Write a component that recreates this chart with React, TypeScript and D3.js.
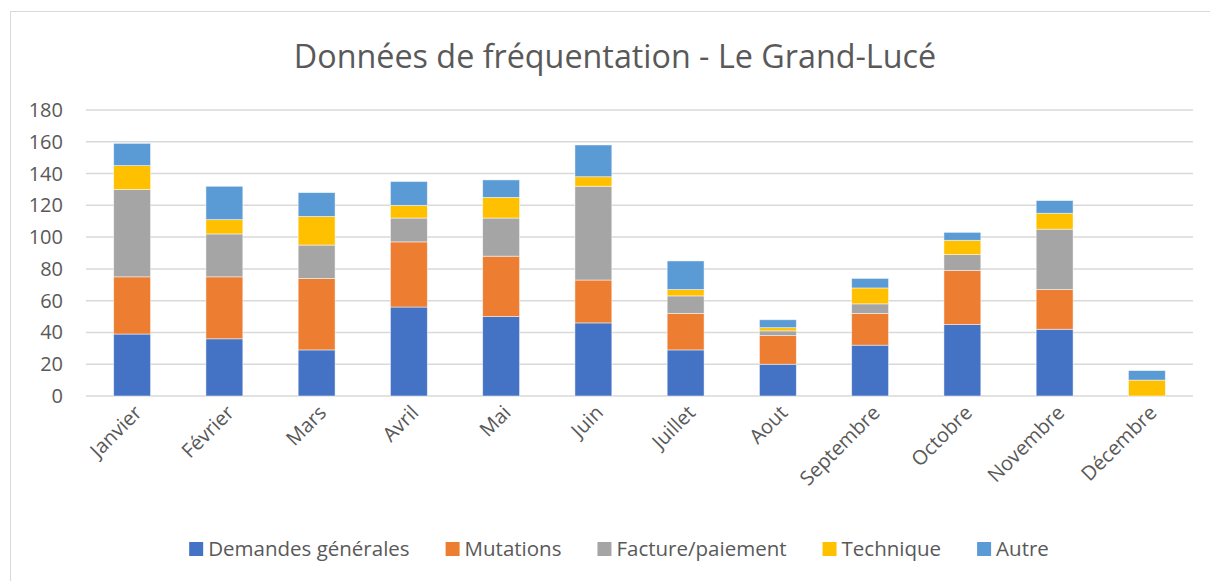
import React from "react";
import * as d3 from "d3";

const months = ["Janvier", "Février", "Mars", "Avril", "Mai", "Juin", "Juillet", "Aout", "Septembre", "Octobre", "Novembre", "Décembre"];
const seriesNames = ["Demandes générales", "Mutations", "Facture/paiement", "Technique", "Autre"];
const demandes = [39, 36, 29, 56, 50, 46, 29, 20, 32, 45, 42, 0];
const mutations = [36, 39, 45, 41, 38, 27, 23, 18, 20, 34, 25, 0];
const facture = [55, 27, 21, 15, 24, 59, 11, 3, 6, 10, 38, 0];
const technique = [15, 9, 18, 8, 13, 6, 4, 2, 10, 9, 10, 10];
const autre = [14, 21, 15, 15, 11, 20, 18, 5, 6, 5, 8, 6];
const yTicks = [0, 20, 40, 60, 80, 100, 120, 140, 160, 180];
const colors = ["#4472C4", "#ED7D31", "#A5A5A5", "#FFC000", "#5B9BD5"];

const W = 1210;
const H = 581;
const FONT = "'Open Sans', 'Segoe UI', sans-serif";
const TEXT = "#595959";

function measure(text: string, size: number) {
  const c = document.createElement("canvas").getContext("2d");
  if (!c) return text.length * size * 0.55;
  c.font = `${size}px 'Open Sans'`;
  return c.measureText(text).width;
}

export default function App() {
  const x = d3.scaleBand<string>().domain(months).range([86, 1193]).paddingInner(0.6).paddingOuter(0.3);
  const y = d3.scaleLinear().domain([0, 180]).range([396, 110]);

  const rows = months.map((m, i) => ({
    month: m,
    s0: demandes[i],
    s1: mutations[i],
    s2: facture[i],
    s3: technique[i],
    s4: autre[i],
  }));
  const stack = d3.stack<any>().keys(["s0", "s1", "s2", "s3", "s4"]);
  const layers = stack(rows);

  const legendSize = 20.5;
  const sq = 14;
  const gapSq = 5;
  const gapItem = 36;
  const widths = seriesNames.map((n) => measure(n, legendSize));
  const total = widths.reduce((a, w) => a + sq + gapSq + w, 0) + gapItem * (seriesNames.length - 1);
  let lx = 619 - total / 2;
  const legendItems = seriesNames.map((n, i) => {
    const item = { name: n, x: lx, color: colors[i] };
    lx += sq + gapSq + widths[i] + gapItem;
    return item;
  });

  return (
    <svg width={W} height={H} style={{ position: "absolute", left: 0, top: 0, background: "#fff" }} fontFamily={FONT}>
      <rect x={10.5} y={11.5} width={1220} height={600} fill="#fff" stroke="#d9d9d9" strokeWidth={1} />
      <text x={615} y={68} textAnchor="middle" fontSize={32.3} fill={TEXT}>
        Données de fréquentation - Le Grand-Lucé
      </text>
      {yTicks.map((t) => (
        <g key={t}>
          <line x1={86} x2={1193} y1={y(t)} y2={y(t)} stroke="#d9d9d9" strokeWidth={1.5} />
          <text x={63} y={y(t)} dy="0.35em" textAnchor="end" fontSize={20} fill={TEXT}>
            {t}
          </text>
        </g>
      ))}
      {layers.map((layer, li) => (
        <g key={li} fill={colors[li]}>
          {layer.map((d, i) => {
            const h = y(d[0]) - y(d[1]);
            if (h <= 0) return null;
            return (
              <rect
                key={i}
                x={x(months[i])}
                y={y(d[1])}
                width={x.bandwidth()}
                height={h}
                stroke="#fff"
                strokeOpacity={0.6}
                strokeWidth={0.8}
              />
            );
          })}
        </g>
      ))}
      {months.map((m) => {
        const cx = (x(m) as number) + x.bandwidth() / 2 + 6;
        const cy = 409;
        return (
          <text key={m} x={cx} y={cy} textAnchor="end" fontSize={20} fill={TEXT} transform={`rotate(-45 ${cx} ${cy})`} dy="0.35em">
            {m}
          </text>
        );
      })}
      {legendItems.map((it) => (
        <g key={it.name}>
          <rect x={it.x} y={542} width={sq} height={sq} fill={it.color} />
          <text x={it.x + sq + gapSq} y={549} dy="0.35em" fontSize={legendSize} fill={TEXT}>
            {it.name}
          </text>
        </g>
      ))}
    </svg>
  );
}
